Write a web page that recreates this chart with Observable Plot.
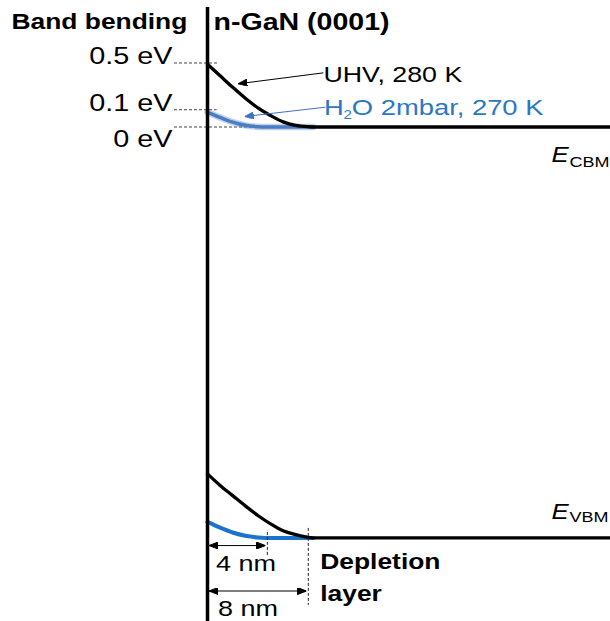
<!DOCTYPE html>
<html><head><meta charset="utf-8">
<script src="https://cdn.jsdelivr.net/npm/d3@7"></script>
<script src="https://cdn.jsdelivr.net/npm/@observablehq/plot@0.6"></script>
<style>html,body{margin:0;padding:0;background:#fff}</style>
</head><body><div id="chart"></div>
<script>
// ---- data (schematic: depth in nm, energy in eV relative to flat-band CBM) ----
const uhvDepth   = [0, 1, 2, 3, 4, 5, 6, 7, 8, 8.6, 32];
const uhvCbm     = [0.49, 0.40, 0.31, 0.225, 0.15, 0.09, 0.04, 0.012, 0.002, 0, 0];
const uhvVbmBend = [0.50, 0.41, 0.33, 0.25, 0.175, 0.11, 0.055, 0.025, 0.004, 0, 0];
const h2oDepth   = [0, 1, 2, 3, 4, 4.6, 8.4];
const h2oCbm     = [0.115, 0.075, 0.038, 0.013, 0.002, 0, 0];
const h2oVbmBend = [0.125, 0.08, 0.042, 0.016, 0.003, 0, 0];
const vbmLevel   = -3.21;
const bendLevels = [0.5, 0.135, 0];
const bendLabels = ["0.5 eV", "0.1 eV", "0 eV"];
const widthMarks = [4.75, 8.0];
const widthLabels = ["4 nm", "8 nm"];
const seriesLabels = ["UHV, 280 K", "H", "2", "O 2mbar, 270 K"];

// ---- layout / scales ----
const W = 610, H = 621;
const x0px = 207, pxPerNm = 12.6, y0px = 126.5, pxPerEv = 128;
const xDomain = [-x0px / pxPerNm, (W - x0px) / pxPerNm];
const yDomain = [-(H - y0px) / pxPerEv, y0px / pxPerEv];
const SX = 1.2; // horizontal text stretch of the original
const BLACK = "#000", BLUE_TOP = "#4a7ec2", BLUE_BOT = "#1a74cc", BLUE_TXT = "#2a78c2";

const cbmUHV = uhvDepth.map((x, i) => ({x, e: uhvCbm[i]}));
const vbmUHV = uhvDepth.map((x, i) => ({x, e: vbmLevel + uhvVbmBend[i]}));
const cbmH2O = h2oDepth.map((x, i) => ({x, e: h2oCbm[i]}));
const vbmH2O = h2oDepth.map((x, i) => ({x, e: vbmLevel + h2oVbmBend[i]}));
const levels = bendLevels.map((e, i) => ({e, label: bendLabels[i], x2: [0.87, 0.77, 8.0][i]}));
const widths = widthMarks.map((w, i) => ({w, label: widthLabels[i]}));

function head(orient) {
  return (color) => d3.create("svg:marker")
    .attr("viewBox", "-9 -3.5 9 7")
    .attr("markerWidth", 9).attr("markerHeight", 7)
    .attr("markerUnits", "userSpaceOnUse")
    .attr("orient", orient)
    .call(m => m.append("path").attr("d", "M-9,-3.5L0,0L-9,3.5Z").attr("fill", color))
    .node();
}
const headEnd = head("auto"), headStart = head("auto-start-reverse");

const txt = {lineAnchor: "bottom", text: d => d};

const chart = Plot.plot({
  width: W, height: H,
  margin: 0,
  x: {domain: xDomain, range: [0, W], axis: null},
  y: {domain: yDomain, range: [H, 0], axis: null},
  style: {fontFamily: "'Liberation Sans', Arial, sans-serif", background: "#fff", color: "#000", overflow: "visible"},
  marks: [
    // dashed reference levels
    Plot.ruleY(levels, {y: "e", x1: () => -2.62, x2: "x2", stroke: "#444", strokeWidth: 1, strokeDasharray: "3,2"}),
    // H2O curves (under UHV)
    Plot.line(cbmH2O, {x: "x", y: "e", curve: "monotone-x", stroke: BLUE_TOP, strokeWidth: 6.5, strokeOpacity: 0.35}),
    Plot.line(cbmH2O, {x: "x", y: "e", curve: "monotone-x", stroke: BLUE_TOP, strokeWidth: 3.5}),
    Plot.line(vbmH2O, {x: "x", y: "e", curve: "monotone-x", stroke: BLUE_BOT, strokeWidth: 4}),
    // UHV curves
    Plot.line(cbmUHV, {x: "x", y: "e", curve: "monotone-x", stroke: BLACK, strokeWidth: 3.3}),
    Plot.line(vbmUHV, {x: "x", y: "e", curve: "monotone-x", stroke: BLACK, strokeWidth: 3.3}),
    // surface (vertical axis line)
    Plot.ruleX([0], {y1: 0.934, y2: yDomain[0], stroke: BLACK, strokeWidth: 3.5}),
    // label arrows
    Plot.link([{x1: 9.2, y1: 0.423, x2: 2.44, y2: 0.3375}], {x1: "x1", y1: "y1", x2: "x2", y2: "y2", stroke: BLACK, strokeWidth: 1, markerEnd: headEnd}),
    Plot.link([{x1: 9.37, y1: 0.155, x2: 2.96, y2: 0.082}], {x1: "x1", y1: "y1", x2: "x2", y2: "y2", stroke: "#4472c4", strokeWidth: 1, markerEnd: headEnd}),
    // depletion widths
    Plot.ruleX(widths, {x: "w", y1: (d, i) => vbmLevel + [0.043, 0.074][i], y2: (d, i) => vbmLevel - [0.152, 0.527][i], stroke: "#222", strokeWidth: 1, strokeDasharray: "3,2"}),
    Plot.link(widths, {x1: () => 0.12, x2: d => d.w - 0.15, y1: (d, i) => vbmLevel - [0.06, 0.415][i], y2: (d, i) => vbmLevel - [0.06, 0.415][i], stroke: BLACK, strokeWidth: 1, markerStart: headStart, markerEnd: headEnd}),
    Plot.text(widths, {x: (d, i) => [3.06, 3.21][i], y: (d, i) => vbmLevel - [0.262, 0.609][i], text: "label", lineAnchor: "bottom", textAnchor: "middle", fontSize: 22.5}),
    Plot.text(["Depletion\nlayer"], {...txt, x: () => 8.95, y: () => vbmLevel - 0.494, textAnchor: "start", fontSize: 22, fontWeight: "bold", lineHeight: 1.47}),
    // level labels
    Plot.text(levels.filter(d => d.e > 0), {x: () => -2.78, y: "e", text: "label", lineAnchor: "bottom", textAnchor: "end", dy: 0.8, fontSize: 24}),
    Plot.text(levels.filter(d => d.e === 0), {x: () => -2.78, y: "e", text: "label", lineAnchor: "bottom", textAnchor: "end", dy: 20.2, fontSize: 24}),
    // series labels
    Plot.text([seriesLabels[0]], {...txt, x: () => 9.2, y: () => 0.35, textAnchor: "start", fontSize: 22.3}),
    Plot.text([seriesLabels[1]], {...txt, x: () => 9.25, y: () => 0.096, textAnchor: "start", fontSize: 22.8, fill: BLUE_TXT}),
    Plot.text([seriesLabels[2]], {...txt, x: () => 9.25, y: () => 0.096, dx: 19.4, dy: 4.5, textAnchor: "start", fontSize: 12.5, fill: BLUE_TXT}),
    Plot.text([seriesLabels[3]], {...txt, x: () => 9.25, y: () => 0.096, dx: 27.8, textAnchor: "start", fontSize: 22.8, fill: BLUE_TXT}),
    // band edge labels
    Plot.text(["E"], {...txt, x: () => 27.3, y: () => -0.275, textAnchor: "start", fontSize: 21.5, fontStyle: "italic"}),
    Plot.text(["CBM"], {...txt, x: () => 27.3, y: () => -0.275, dx: 18, dy: 5, textAnchor: "start", fontSize: 15}),
    Plot.text(["E"], {...txt, x: () => 27.3, y: () => vbmLevel + 0.15, textAnchor: "start", fontSize: 21.5, fontStyle: "italic"}),
    Plot.text(["VBM"], {...txt, x: () => 27.3, y: () => vbmLevel + 0.15, dx: 18, dy: 3.4, textAnchor: "start", fontSize: 15}),
    // titles
    Plot.text(["Band bending"], {...txt, frameAnchor: "top-left", dx: 11, dy: 28.3, textAnchor: "start", fontSize: 22, fontWeight: "bold"}),
    Plot.text(["n-GaN (0001)"], {...txt, frameAnchor: "top-left", dx: 213, dy: 29, textAnchor: "start", fontSize: 23.8, fontWeight: "bold"})
  ]
});

// reproduce the horizontally stretched lettering of the original
d3.select(chart).selectAll("text").each(function () {
  const t = this.getAttribute("transform") || "";
  this.setAttribute("transform", (t + ` scale(${SX},1)`).trim());
});
document.getElementById("chart").appendChild(chart);
</script>
</body></html>
